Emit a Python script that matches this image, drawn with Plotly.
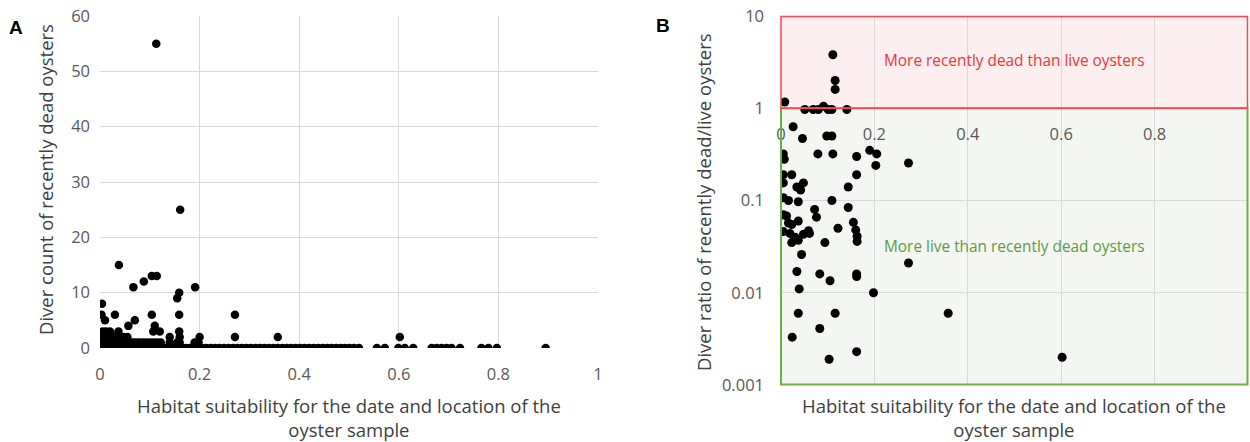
import plotly.graph_objects as go

# ---------------- Panel A data: habitat suitability vs diver count of recently dead oysters
a_x_count0 = [0.000, 0.004, 0.008, 0.012, 0.016, 0.020, 0.025, 0.030, 0.035, 0.040, 0.046, 0.052,
              0.058, 0.064, 0.070, 0.077, 0.084, 0.091, 0.098, 0.105, 0.112, 0.119, 0.126, 0.133,
              0.140, 0.148, 0.156, 0.164, 0.172, 0.180, 0.188, 0.196, 0.204, 0.213, 0.222, 0.231,
              0.240, 0.249, 0.258, 0.267, 0.276, 0.285, 0.294, 0.303, 0.312, 0.321, 0.330, 0.339,
              0.348, 0.357, 0.366, 0.375, 0.384, 0.393, 0.402, 0.411, 0.420, 0.429, 0.438, 0.447,
              0.456, 0.465, 0.474, 0.483, 0.492, 0.501, 0.510, 0.520, 0.556, 0.572, 0.599, 0.612,
              0.629, 0.666, 0.676, 0.686, 0.696, 0.706, 0.723, 0.766, 0.780, 0.797, 0.895]
a_x_count1 = [0.000, 0.004, 0.008, 0.013, 0.018, 0.023, 0.028, 0.033, 0.038, 0.044, 0.050, 0.056,
              0.062, 0.068, 0.074, 0.080, 0.087, 0.094, 0.101, 0.108, 0.115, 0.122, 0.140, 0.155,
              0.160, 0.190, 0.198]
a_x_count2 = [0.002, 0.008, 0.015, 0.022, 0.028, 0.035, 0.047, 0.055, 0.140, 0.160, 0.200, 0.271,
              0.357, 0.602]
a_x_count3 = [0.005, 0.012, 0.020, 0.037, 0.107, 0.120, 0.159]
a_x_other = [0.057, 0.110, 0.010, 0.070, 0.003, 0.030, 0.104, 0.159, 0.271, 0.004, 0.155, 0.159,
             0.067, 0.191, 0.088, 0.104, 0.114, 0.038, 0.161, 0.113]
a_y_other = [4, 4, 5, 5, 6, 6, 6, 6, 6, 8, 9, 10, 11, 11, 12, 13, 13, 15, 25, 55]

# ---------------- Panel B data: habitat suitability vs dead/live ratio
b_x = [0.111, 0.116, 0.116, 0.008, 0.051, 0.069, 0.080, 0.091, 0.101, 0.109, 0.141, 0.026,
       0.046, 0.098, 0.109, 0.005, 0.007, 0.079, 0.111, 0.162, 0.190, 0.205, 0.203, 0.273,
       0.005, 0.023, 0.162, 0.005, 0.048, 0.034, 0.042, 0.144, 0.005, 0.016, 0.037, 0.109,
       0.144, 0.072, 0.076, 0.005, 0.012, 0.037, 0.016, 0.023, 0.005, 0.019, 0.030, 0.048,
       0.059, 0.061, 0.037, 0.023, 0.122, 0.155, 0.160, 0.163, 0.163, 0.094, 0.044, 0.273,
       0.034, 0.083, 0.105, 0.162, 0.162, 0.039, 0.198, 0.037, 0.116, 0.358, 0.083, 0.024,
       0.162, 0.103, 0.602]
b_ratio = [3.8, 2.0, 1.6, 1.17, 0.97, 0.97, 0.97, 1.05, 0.97, 0.97, 0.97, 0.63,
           0.47, 0.5, 0.5, 0.32, 0.28, 0.32, 0.32, 0.3, 0.35, 0.32, 0.24, 0.255,
           0.19, 0.19, 0.19, 0.155, 0.155, 0.14, 0.13, 0.14, 0.107, 0.1, 0.097, 0.1,
           0.084, 0.08, 0.066, 0.07, 0.068, 0.06, 0.057, 0.055, 0.046, 0.044, 0.04, 0.043,
           0.047, 0.044, 0.037, 0.035, 0.05, 0.058, 0.048, 0.041, 0.036, 0.035, 0.026, 0.021,
           0.017, 0.016, 0.0135, 0.016, 0.015, 0.011, 0.01, 0.006, 0.006, 0.006, 0.0041, 0.0033,
           0.0023, 0.0019, 0.002]

x_ticks = [0, 0.2, 0.4, 0.6, 0.8, 1]
x_tick_text = ["0", "0.2", "0.4", "0.6", "0.8", "1"]
a_y_ticks = [0, 10, 20, 30, 40, 50, 60]
b_y_ticks = [0.001, 0.01, 0.1, 1, 10]
b_y_tick_text = ["0.001", "0.01", "0.1", "1", "10"]

a_x = a_x_count0 + a_x_count1 + a_x_count2 + a_x_count3 + a_x_other
a_y = ([0] * len(a_x_count0) + [1] * len(a_x_count1) + [2] * len(a_x_count2)
       + [3] * len(a_x_count3) + a_y_other)

FONT = "Open Sans"
TICK_COLOR = "#595959"
TITLE_COLOR = "#404040"
GRID = "#D9D9D9"

W, H = 1250, 442
ML, MR, MT, MB = 0, 2, 16, 57
PW = W - ML - MR
PH = H - MT - MB


def px_x(p):
    return (p - ML) / PW


def px_y(p):
    return (H - MB - p) / PH


fig = go.Figure()

fig.add_trace(go.Scatter(x=a_x, y=a_y, mode="markers", xaxis="x", yaxis="y",
                         marker=dict(color="black", size=8.5), showlegend=False))
fig.add_trace(go.Scatter(x=b_x, y=b_ratio, mode="markers", xaxis="x2", yaxis="y2",
                         marker=dict(color="black", size=9), showlegend=False))

tickfont = dict(family=FONT, size=16.5, color=TICK_COLOR)

fig.update_layout(
    width=W, height=H,
    margin=dict(l=ML, r=MR, t=MT, b=MB),
    paper_bgcolor="white", plot_bgcolor="rgba(0,0,0,0)",
    font=dict(family=FONT),
    xaxis=dict(domain=[px_x(100), px_x(598)], range=[0, 1], tickvals=x_ticks, ticktext=x_tick_text,
               showgrid=True, gridcolor=GRID, gridwidth=1, zeroline=False, showline=False,
               tickfont=tickfont, ticks="", ticklabelstandoff=14, anchor="y", automargin=False),
    yaxis=dict(domain=[px_y(348), 1], range=[0, 60], tickvals=a_y_ticks,
               showgrid=True, gridcolor=GRID, gridwidth=1, zeroline=False, showline=False,
               tickfont=tickfont, ticks="", ticklabelstandoff=9, anchor="x", automargin=False),
    xaxis2=dict(domain=[px_x(781), 1], range=[0, 1], tickvals=x_ticks, ticktext=x_tick_text,
                showgrid=True, gridcolor=GRID, gridwidth=1, zeroline=False, showline=False,
                tickfont=tickfont, ticks="", ticklabelstandoff=14, anchor="free",
                position=0.75, automargin=False),
    yaxis2=dict(domain=[0, 1], type="log", range=[-3, 1], tickvals=b_y_ticks, ticktext=b_y_tick_text,
                showgrid=True, gridcolor=GRID, gridwidth=1, zeroline=False, showline=False,
                tickfont=tickfont, ticks="", ticklabelstandoff=16, anchor="x2", automargin=False),
)

# shaded regions in panel B
fig.add_shape(type="rect", xref="x2", yref="y2", x0=0, x1=1, y0=1, y1=10,
              fillcolor="#FDEFEF", line=dict(width=0), layer="below")
fig.add_shape(type="rect", xref="x2", yref="y2", x0=0, x1=1, y0=0.001, y1=1,
              fillcolor="#F4F6F2", line=dict(width=0), layer="below")
# region borders (paper-referenced so they are not clipped at the plot edge)
bx0, bx1 = px_x(781), px_x(1247.5)
y_top, y_one, y_bot = px_y(16.5), 0.75, px_y(384.5)
fig.add_shape(type="rect", xref="paper", yref="paper", x0=bx0, x1=bx1, y0=y_bot, y1=y_one,
              fillcolor="rgba(0,0,0,0)", line=dict(color="#70AD47", width=2), layer="above")
fig.add_shape(type="rect", xref="paper", yref="paper", x0=bx0, x1=bx1, y0=y_one, y1=y_top,
              fillcolor="rgba(0,0,0,0)", line=dict(color="#F04A4A", width=1.5), layer="above")

fig.add_annotation(x=0.5, y=0.52, xref="x2", yref="y2", showarrow=False,
                   text="More recently dead than live oysters",
                   font=dict(family=FONT, size=15.4, color="#F03535"))
fig.add_annotation(x=0.5, y=-1.5, xref="x2", yref="y2", showarrow=False,
                   text="More live than recently dead oysters",
                   font=dict(family=FONT, size=15.4, color="#5E9A45"))

title_font = dict(family=FONT, size=18.5, color=TITLE_COLOR)
for cx, cy in [(349, 417), (1014, 417)]:
    fig.add_annotation(x=px_x(cx), y=px_y(cy), xref="paper", yref="paper", showarrow=False,
                       text="Habitat suitability for the date and location of the<br>oyster sample",
                       font=title_font, xanchor="center", yanchor="middle", borderpad=0)
fig.add_annotation(x=px_x(45), y=px_y(180), xref="paper", yref="paper", showarrow=False,
                   text="Diver count of recently dead oysters", textangle=-90,
                   font=title_font, xanchor="center", yanchor="middle")
fig.add_annotation(x=px_x(703), y=px_y(202), xref="paper", yref="paper", showarrow=False,
                   text="Diver ratio of recently dead/live oysters", textangle=-90,
                   font=title_font, xanchor="center", yanchor="middle")

fig.add_annotation(x=px_x(16), y=px_y(28), xref="paper", yref="paper", showarrow=False,
                   text="<b>A</b>", font=dict(family="Liberation Sans", size=19, color="black"),
                   xanchor="center", yanchor="middle")
fig.add_annotation(x=px_x(663), y=px_y(25), xref="paper", yref="paper", showarrow=False,
                   text="<b>B</b>", font=dict(family="Liberation Sans", size=19, color="black"),
                   xanchor="center", yanchor="middle")

fig.write_html("out.html", config={"displayModeBar": False},
               post_script="document.body.style.margin='0px';document.body.style.overflow='hidden';")
